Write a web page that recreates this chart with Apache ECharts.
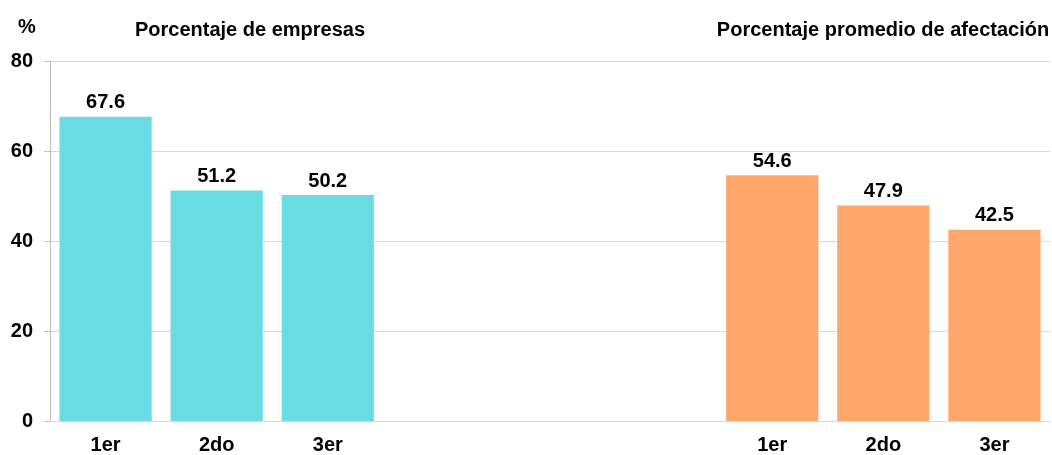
<!DOCTYPE html>
<html><head><meta charset="utf-8">
<script src="https://cdn.jsdelivr.net/npm/echarts@6/dist/echarts.min.js"></script>
<style>html,body{margin:0;padding:0;background:#fff}#c{width:1052px;height:455px}</style>
</head><body><div id="c"></div>
<script>
var categories = ['1er','2do','3er','','','','1er','2do','3er'];
var empresas = [67.6, 51.2, 50.2, null, null, null, null, null, null];
var afectacion = [null, null, null, null, null, null, 54.6, 47.9, 42.5];
var yTicks = [0, 20, 40, 60, 80];
var titleLeft = 'Porcentaje de empresas';
var titleRight = 'Porcentaje promedio de afectación';

var F = '"Liberation Sans", Arial, sans-serif';
var chart = echarts.init(document.getElementById('c'));
var labelCfg = {show:true, position:'top', distance:4, color:'#000', fontFamily:F, fontWeight:'bold', fontSize:20};
var tStyle = {fontFamily:F, fontWeight:'bold', fontSize:20, color:'#000'};
chart.setOption({
  animation:false,
  title:[
    {text:titleLeft, left:245, top:15, textAlign:'center', textStyle:tStyle},
    {text:titleRight, left:878, top:15, textAlign:'center', textStyle:tStyle},
    {text:'%', left:13, top:12, textStyle:tStyle}
  ],
  grid:{left:50, right:2, top:61, bottom:34, containLabel:false},
  xAxis:{type:'category', data:categories,
    axisLine:{lineStyle:{color:'#d9d9d9', width:1}}, axisTick:{show:false},
    axisLabel:{color:'#000', fontFamily:F, fontWeight:'bold', fontSize:20, margin:14}},
  yAxis:{type:'value', min:yTicks[0], max:yTicks[yTicks.length-1], interval:20,
    axisLine:{show:true, lineStyle:{color:'#bfbfbf'}},
    axisTick:{show:true, length:6, lineStyle:{color:'#bfbfbf'}},
    splitLine:{lineStyle:{color:'#d9d9d9'}},
    axisLabel:{color:'#000', fontFamily:F, fontWeight:'bold', fontSize:20, margin:17}},
  series:[
    {type:'bar', data:empresas, barCategoryGap:'17%', barGap:'-100%', itemStyle:{color:'#69DCE3'}, label:labelCfg},
    {type:'bar', data:afectacion, barCategoryGap:'17%', barGap:'-100%', itemStyle:{color:'#FFA76B'}, label:labelCfg}
  ]
});
</script></body></html>
